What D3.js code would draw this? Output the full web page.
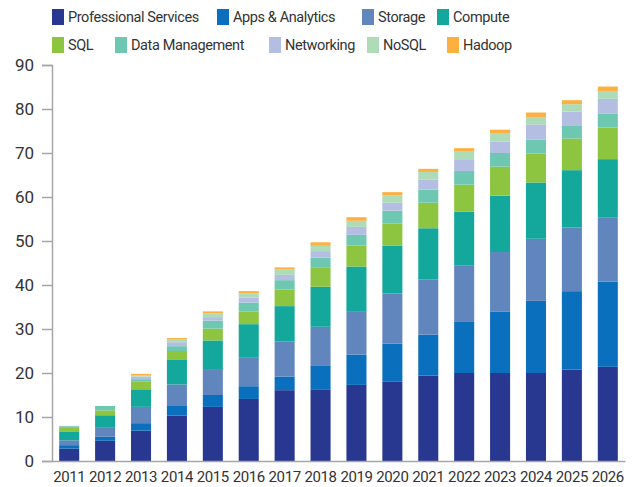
<!DOCTYPE html>
<html><head><meta charset="utf-8">
<script src="https://cdn.jsdelivr.net/npm/d3@7"></script>
<style>
body{margin:0;background:#fff;}
text{font-family:Roboto,"Liberation Sans",Arial,sans-serif;fill:#333;}
</style></head>
<body>
<svg id="chart" width="633" height="487"></svg>
<script>
const years = ["2011","2012","2013","2014","2015","2016","2017","2018","2019","2020","2021","2022","2023","2024","2025","2026"];
const seriesNames = ["Professional Services","Apps & Analytics","Storage","Compute","SQL","Data Management","Networking","NoSQL","Hadoop"];
const colors = ["#283891","#0a6fbd","#6186be","#14a89d","#8dc540","#6ec8b1","#b3bee2","#aedcb9","#fbb040"];
const professionalServices = [2.8,4.6,6.9,10.3,12.3,14.1,16.1,16.3,17.3,18.0,19.4,20.0,20.0,20.0,20.8,21.4];
const appsAnalytics = [0.8,0.9,1.7,2.2,2.7,2.9,3.1,5.3,6.9,8.7,9.3,11.6,14.0,16.4,17.8,19.4];
const storage = [1.1,2.2,3.7,4.9,5.9,6.6,8.0,8.9,9.7,11.4,12.6,12.9,13.5,14.1,14.5,14.6];
const compute = [1.9,2.7,4.0,5.7,6.5,7.5,8.0,9.1,10.3,10.8,11.6,12.2,12.8,12.8,13.0,13.2];
const sql = [1.1,1.1,1.7,1.9,2.7,2.9,3.8,4.3,4.8,5.1,5.8,6.1,6.6,6.6,7.2,7.2];
const dataManagement = [0.2,1.0,0.6,1.1,1.8,2.0,2.1,2.3,2.4,2.9,3.0,3.1,3.1,3.1,3.0,3.1];
const networking = [0.05,0,0.6,0.9,0.8,1.1,1.2,1.5,1.8,1.8,2.2,2.7,2.6,3.5,3.1,3.4];
const nosql = [0.05,0,0.3,0.6,0.9,1.0,1.2,1.2,1.4,1.7,1.8,1.7,1.8,1.7,1.7,1.8];
const hadoop = [0,0,0.3,0.35,0.4,0.5,0.5,0.8,0.8,0.7,0.7,0.8,0.9,1.0,0.9,1.0];
const yTicks = [0,10,20,30,40,50,60,70,80,90];

const seriesValues = [professionalServices,appsAnalytics,storage,compute,sql,dataManagement,networking,nosql,hadoop];
const table = years.map((y,i)=>{const o={year:y}; seriesNames.forEach((s,j)=>o[s]=seriesValues[j][i]); return o;});
const stacked = d3.stack().keys(seriesNames)(table);

const svg = d3.select("#chart");
const x = d3.scaleBand().domain(years).range([52,625]).paddingInner(0.442).paddingOuter(0.2);
const y = d3.scaleLinear().domain([0,90]).range([461,65]);

// bars
svg.append("g").selectAll("g").data(stacked).join("g")
  .attr("fill",(d,i)=>colors[i])
  .selectAll("rect").data(d=>d).join("rect")
  .attr("x",d=>x(d.data.year))
  .attr("width",x.bandwidth())
  .attr("y",d=>y(d[1]))
  .attr("height",d=>Math.max(0,y(d[0])-y(d[1])));

// y axis
const ya = svg.append("g").attr("transform","translate(52,0)")
  .call(d3.axisLeft(y).tickValues(yTicks).tickSize(10).tickPadding(8));
ya.select(".domain").attr("stroke","#a6a6a6").attr("stroke-width",1.5);
ya.selectAll(".tick line").attr("stroke","#a6a6a6").attr("stroke-width",1.5);
ya.selectAll(".tick text").style("font-size","17px").attr("fill","#333");

// x axis
const xa = svg.append("g").attr("transform","translate(0,461)")
  .call(d3.axisBottom(x).tickSize(0).tickPadding(10).tickSizeOuter(0));
xa.select(".domain").attr("stroke","#a6a6a6").attr("stroke-width",1.5);
xa.selectAll(".tick text").style("font-size","15px").style("letter-spacing","-0.4px").attr("fill","#333");

// legend
const legendPos = [[52,17],[217,17],[362,17],[437,17],[52,45],[115,45],[269,45],[367,45],[447,45]];
const lg = svg.append("g");
seriesNames.forEach((s,i)=>{
  const [lx,ly] = legendPos[i];
  lg.append("rect").attr("x",lx).attr("y",ly-8).attr("width",12).attr("height",16).attr("fill",colors[i]);
  lg.append("text").attr("x",lx+16).attr("y",ly).attr("dy","0.36em")
    .style("font-size","14.5px").style("letter-spacing","-0.4px").text(s);
});
</script>
</body></html>
